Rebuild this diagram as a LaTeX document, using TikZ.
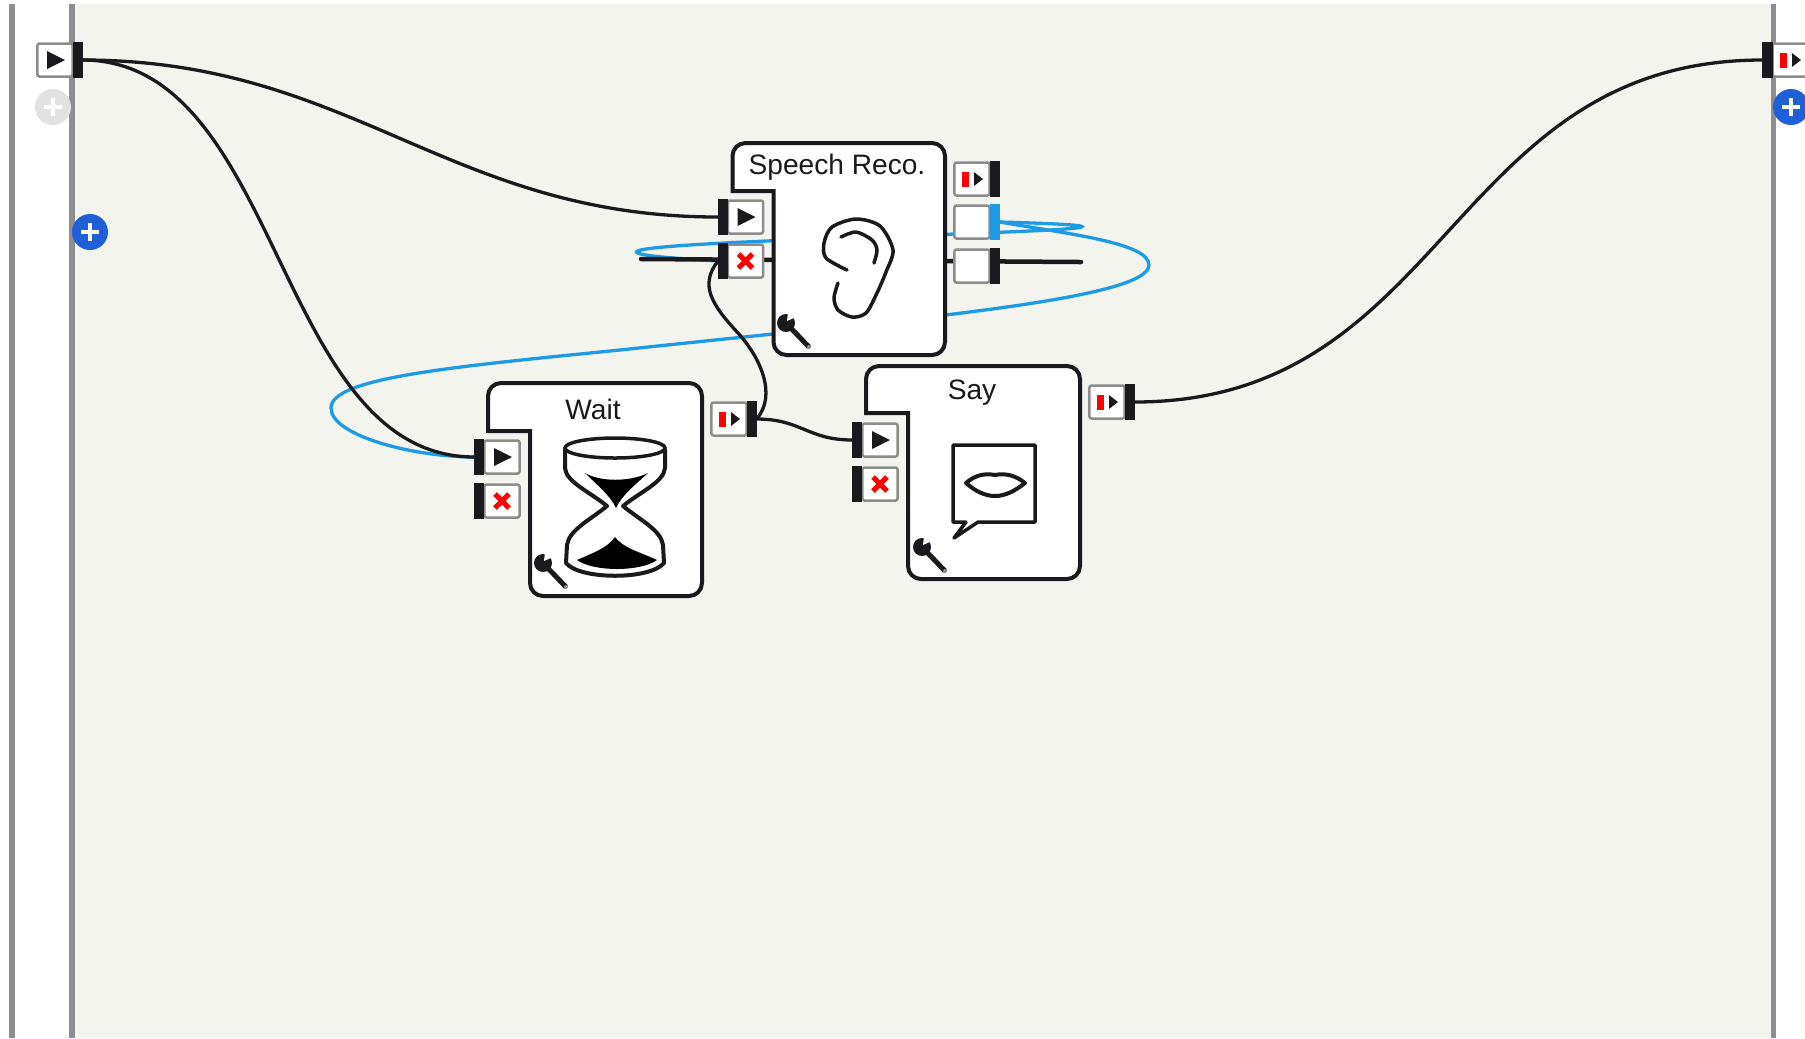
\documentclass[tikz,border=0pt]{standalone}
\usepackage{fontspec}
\setmainfont{Liberation Sans}
\pgfdeclarelayer{paper}
\pgfdeclarelayer{wires}
\pgfsetlayers{paper,wires,main}
\definecolor{paneltint}{HTML}{F3F4EE}
\definecolor{framegray}{HTML}{8E8E90}
\definecolor{portgray}{HTML}{8C8C8C}
\definecolor{barblack}{HTML}{1A1A1E}
\definecolor{wireblue}{HTML}{1E9BE6}
\definecolor{plusblue}{HTML}{1F5FD8}
\definecolor{plusgray}{HTML}{E2E2E2}
\tikzset{
	framerule/.style={draw=framegray, line width=0.05cm},
	wire/.style={draw=barblack, line width=0.033cm},
	bluewire/.style={draw=wireblue, line width=0.033cm},
	stubwire/.style={draw=barblack, line width=0.045cm, line cap=round},
	blockline/.style={draw=barblack, fill=white, line width=0.04cm},
	iconline/.style={draw=barblack, line width=0.035cm, line cap=round},
	portbox/.style={draw=portgray, fill=white, line width=0.025cm, rounded corners=0.02cm, minimum width=0.35cm, minimum height=0.33cm, inner sep=0pt, outer sep=0pt},
	portbar/.style={fill=barblack, minimum width=0.10cm, minimum height=0.36cm, inner sep=0pt, outer sep=0pt},
	plusdot/.style={circle, minimum size=0.36cm, inner sep=0pt, fill=plusblue},
	plusarm/.style={draw=white, line width=0.045cm},
	title/.style={font=\fontsize{8}{10}\selectfont, text=barblack, inner sep=0pt}
}
\def\leftport#1(#2,#3){\node[portbox] (#1) at (#2,#3) {}; \node[portbar, anchor=east] (#1bar) at (#1.west) {};}
\def\rightport#1(#2,#3){\node[portbox] (#1) at (#2,#3) {}; \node[portbar, anchor=west] (#1bar) at (#1.east) {};}
\def\playicon#1{\fill[barblack, shift={(#1)}] (-8,-9) -- (-8,9) -- (10,0) -- cycle;}
\def\crossicon#1{\draw[red, line width=0.05cm, shift={(#1)}] (-7,-7) -- (7,7) (-7,7) -- (7,-7);}
\def\stopicon#1{\fill[red, shift={(#1)}] (-10,-7.5) rectangle (-3,7.5); \fill[barblack, shift={(#1)}] (2,-7) -- (2,7) -- (11,0) -- cycle;}
\def\plusicon#1{\draw[plusarm, shift={(#1)}] (-9,0) -- (9,0) (0,-9) -- (0,9);}
\def\blockshape(#1,#2,#3,#4,#5,#6){\draw[blockline] (#1,#6) [rounded corners=0.13cm] -- (#1,#2) -- (#3,#2) -- (#3,#4) -- (#5,#4) [sharp corners] -- (#5,#6) -- cycle;}
\def\wrenchicon(#1,#2){
	\begin{scope}[shift={(#1,#2)}]
		\draw[barblack, line width=0.05cm] (0,0) -- (23,24);
		\fill[barblack] (0,0) circle (9);
		\fill[white] (1,-2) -- (2,-11) -- (10,-6) -- cycle;
		\fill[portgray] (23,24) circle (2);
	\end{scope}
}

\begin{document}
\begin{tikzpicture}[x=0.01cm, y=-0.01cm]
			%%%%% START %%%%%
			
			\clip (0,0) rectangle (1805,1038);
			\begin{pgfonlayer}{paper}
				\fill[white] (0,0) rectangle (1805,1038);
				\fill[paneltint] (72,4) rectangle (1773,1038);
				\draw[framerule] (12,4) -- (12,1038);
				\draw[framerule] (72,4) -- (72,1038);
				\draw[framerule] (1773,4) -- (1773,1038);
			\end{pgfonlayer}
			
			% speech block
			\blockshape(732.5,143,945,355,773.5,191);
			\node[title] (speechtitle) at (837,167) {Speech Reco.};
			\leftport{speechin}(745.5,217);
			\leftport{speechstop}(745.5,261);
			\rightport{speechdone}(972,179);
			\rightport{speechword}(972,222);
			\rightport{speechconf}(972,266);
			\playicon{speechin}
			\crossicon{speechstop}
			\stopicon{speechdone}
			\node[portbar, fill=wireblue, anchor=west] (speechwordblue) at (speechword.east) {};
			\draw[iconline, line join=round] plot[smooth] coordinates {(847,270) (826,258) (824,243) (832,227) (856,219) (880,226) (893,250) (886,272) (877,293) (866,313) (852,317) (838,310) (834,298) (838,283)};
			\draw[iconline] plot[smooth] coordinates {(841,237) (856,232) (872,240) (877,250) (874,263)};
			\wrenchicon(786,323)
			
			% wait block
			\blockshape(488,383,702,596,530,431);
			\node[title] (waittitle) at (593,409) {Wait};
			\leftport{waitin}(502,457);
			\leftport{waitstop}(502,501);
			\rightport{waitout}(729,419);
			\playicon{waitin}
			\crossicon{waitstop}
			\stopicon{waitout}
			\draw[iconline, line width=0.04cm, line join=round] (565,450) -- (565,468) .. controls (566,482) and (590,492) .. (607,506) .. controls (590,520) and (569,530) .. (567,545) -- (566,563) .. controls (580,580) and (650,580) .. (664,563) -- (663,545) .. controls (661,530) and (640,520) .. (623,506) .. controls (640,492) and (664,482) .. (665,468) -- (665,450);
			\draw[blockline, line width=0.035cm] (615,448) ellipse (50 and 10);
			\fill[black] (585,473) .. controls (600,482) and (630,482) .. (648,473) .. controls (635,485) and (622,495) .. (616,508) .. controls (610,495) and (597,485) .. (585,473) -- cycle;
			\fill[black] (577,560) .. controls (595,552) and (607,548) .. (615,537) .. controls (623,548) and (640,552) .. (657,560) .. controls (640,572) and (594,572) .. (577,560) -- cycle;
			\wrenchicon(543,563)
			
			% say block
			\blockshape(866,366,1080,579,908,413);
			\node[title] (saytitle) at (972,393) {Say};
			\leftport{sayin}(880,440);
			\leftport{saystop}(880,484);
			\rightport{sayout}(1107,402);
			\playicon{sayin}
			\crossicon{saystop}
			\stopicon{sayout}
			\draw[iconline, line join=round] (966,522) -- (954,538) -- (978,522) -- (1035,522) -- (1035,445) -- (953,445) -- (953,522) -- (966,522);
			\draw[blockline, line join=round] (966,483) .. controls (975,475) and (985,473) .. (995,475) .. controls (1005,473) and (1015,475) .. (1025,483) .. controls (1015,491) and (1005,496) .. (995,496) .. controls (985,496) and (975,491) .. (966,483) -- cycle;
			\wrenchicon(922,547)
			
			% frame ports
			\rightport{start}(55,60);
			\leftport{finish}(1790,60);
			\playicon{start}
			\stopicon{finish}
			\node[plusdot, fill=plusgray] (startadd) at (53,107) {};
			\node[plusdot] (paneladd) at (90,232) {};
			\node[plusdot] (finishadd) at (1791,107) {};
			\plusicon{startadd}
			\plusicon{paneladd}
			\plusicon{finishadd}
			
			% free ends of the wires
			\coordinate (stubleft) at (641,259);
			\coordinate (stubright) at (1081,262);
			\coordinate (loopright) at (1149,265);
			\coordinate (loopleft) at (331,408);
			\coordinate (loopmid) at (620,350);
			\coordinate (stopbend) at (738,333);
			
			\begin{pgfonlayer}{wires}
				\draw[bluewire] (speechwordblue.east) .. controls (1370,232) and (350,240) .. (speechstopbar.west);
				\draw[bluewire] (speechwordblue.east) .. controls +(70,12) and +(0,-22) .. (loopright) .. controls +(0,35) and +(280,-30) .. (loopmid) .. controls +(-170,17) and +(0,-30) .. (loopleft) .. controls +(0,28) and +(-60,0) .. (waitinbar.west);
				\draw[stubwire] (stubleft) -- (stubright);
				
				\draw[wire] (startbar.east) .. controls +(270,0) and +(-270,0) .. (speechinbar.west);
				\draw[wire] (startbar.east) .. controls +(200,0) and +(-200,0) .. (waitinbar.west);
				\draw[wire] (speechstopbar.west) .. controls +(-19,24) and +(-26,-28) .. (stopbend) .. controls +(22,24) and +(21,-24) .. (waitoutbar.east);
				\draw[wire] (waitoutbar.east) .. controls +(45,0) and +(-45,0) .. (sayinbar.west);
				\draw[wire] (sayoutbar.east) .. controls +(314,0) and +(-314,0) .. (finishbar.west);
			\end{pgfonlayer}
			
			%%%%% END %%%%%
		\end{tikzpicture}
\end{document}
